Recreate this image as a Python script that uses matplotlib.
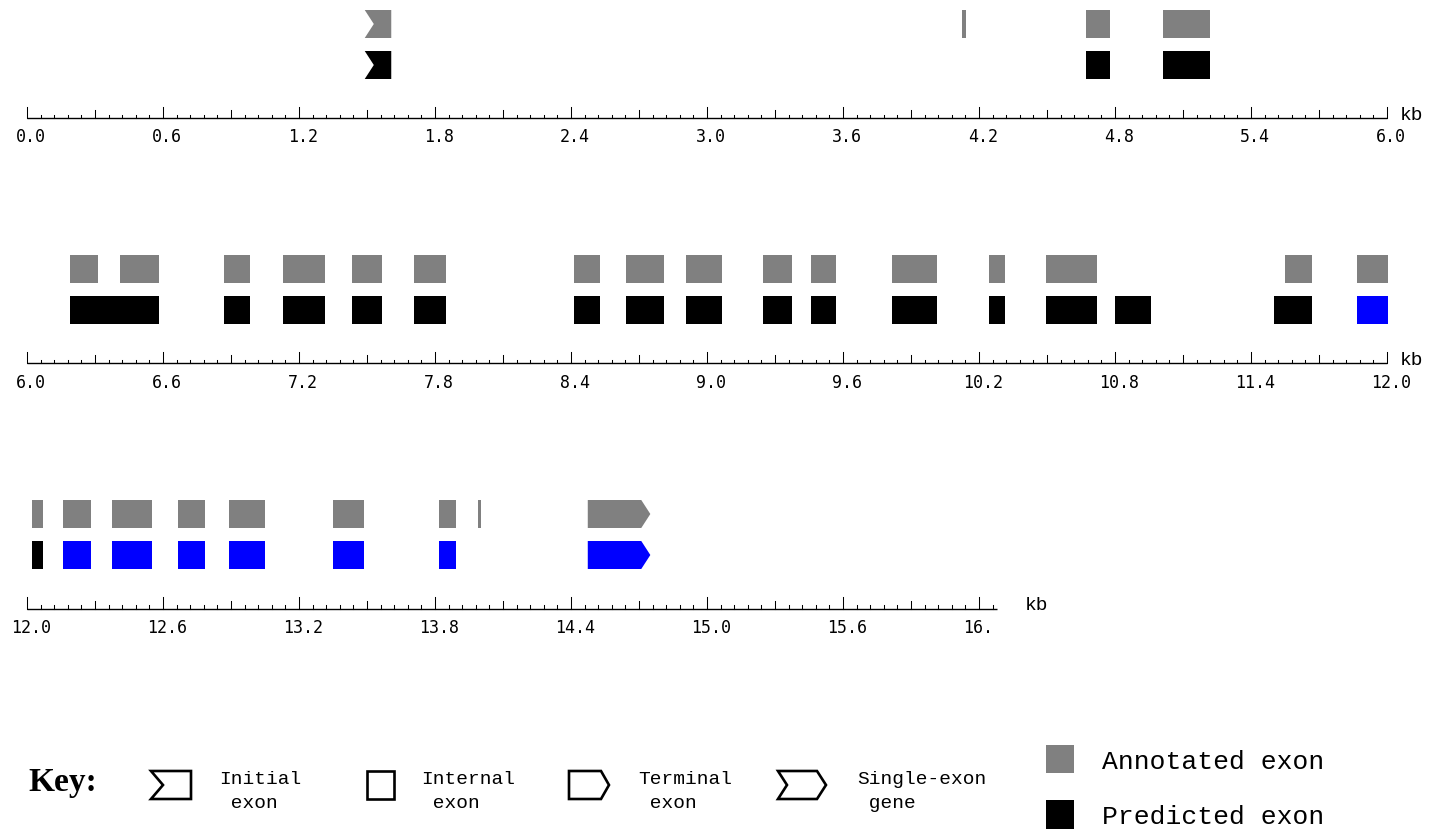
import numpy as np
import matplotlib
matplotlib.use("Agg")
import matplotlib.pyplot as plt
from matplotlib.patches import Polygon, Rectangle
from matplotlib.transforms import offset_copy

# ---------------- data (positions in kb) ----------------
ann_start = [1.490, 4.123, 4.674, 5.012,
             6.189, 6.410, 6.870, 7.129, 7.435, 7.708, 8.414, 8.643, 8.908,
             9.248, 9.459, 9.818, 10.245, 10.497, 11.551, 11.868,
             12.023, 12.158, 12.375, 12.667, 12.892, 13.350, 13.818, 13.990, 14.474]
ann_end = [1.607, 4.143, 4.779, 5.217,
           6.312, 6.582, 6.983, 7.316, 7.564, 7.850, 8.527, 8.809, 9.065,
           9.374, 9.570, 10.014, 10.315, 10.722, 11.671, 12.003,
           12.071, 12.282, 12.552, 12.785, 13.050, 13.488, 13.893, 14.004, 14.750]
ann_kind = ["initial", "internal", "internal", "internal",
            "internal", "internal", "internal", "internal", "internal", "internal",
            "internal", "internal", "internal", "internal", "internal", "internal",
            "internal", "internal", "internal", "internal",
            "internal", "internal", "internal", "internal", "internal", "internal",
            "internal", "internal", "terminal"]

pred_start = [1.490, 4.674, 5.012,
              6.189, 6.870, 7.129, 7.435, 7.708, 8.414, 8.643, 8.908,
              9.248, 9.459, 9.818, 10.245, 10.497, 10.798, 11.503, 11.868,
              12.023, 12.158, 12.375, 12.667, 12.892, 13.350, 13.818, 14.474]
pred_end = [1.607, 4.779, 5.217,
            6.582, 6.983, 7.316, 7.564, 7.850, 8.527, 8.809, 9.065,
            9.374, 9.570, 10.014, 10.315, 10.722, 10.961, 11.671, 12.003,
            12.071, 12.282, 12.552, 12.785, 13.050, 13.488, 13.893, 14.750]
pred_kind = ["initial", "internal", "internal",
             "internal", "internal", "internal", "internal", "internal", "internal",
             "internal", "internal", "internal", "internal", "internal", "internal",
             "internal", "internal", "internal", "internal",
             "internal", "internal", "internal", "internal", "internal", "internal",
             "internal", "terminal"]
pred_color = ["black", "black", "black",
              "black", "black", "black", "black", "black", "black", "black", "black",
              "black", "black", "black", "black", "black", "black", "black", "blue",
              "black", "blue", "blue", "blue", "blue", "blue", "blue", "blue"]

row_start = [0.0, 6.0, 12.0]
row_end = [6.0, 12.0, 16.28]
row_span = 6.0

key_labels = ["Initial\n exon", "Internal\n exon", "Terminal\n exon", "Single-exon\n gene"]
legend_labels = ["Annotated exon", "Predicted exon"]

GRAY = "#808080"
BLUE = "#0000ff"

# ---------------- figure ----------------
W, H = 1433, 830
fig = plt.figure(figsize=(W / 100, H / 100), dpi=100)
fig.patch.set_facecolor("white")

LEFT_PX, RIGHT_PX = 27, 1387
BAND = 245
ANN_Y = (10, 38)
PRED_Y = (51, 79)
AXIS_Y = 118.5
NOTCH = 0.04
CHAR_W = 10.03  # px per char of tick-label font (DejaVu Sans Mono 12pt @100dpi)


def exon_poly(s, e, kind, y0, y1):
    ym = (y0 + y1) / 2
    if kind == "initial":
        return [(s, y0), (e, y0), (e, y1), (s, y1), (s + NOTCH, ym)]
    if kind == "terminal":
        return [(s, y0), (e - NOTCH, y0), (e, ym), (e - NOTCH, y1), (s, y1)]
    return [(s, y0), (e, y0), (e, y1), (s, y1)]


axes = []
for r in range(3):
    top = r * BAND
    ax = fig.add_axes([LEFT_PX / W, 1 - (top + BAND) / H,
                       (RIGHT_PX - LEFT_PX) / W, BAND / H])
    ax.set_xlim(row_start[r], row_start[r] + row_span)
    ax.set_ylim(BAND, 0)
    ax.axis("off")
    axes.append(ax)

    # exons
    for s, e, k in zip(ann_start, ann_end, ann_kind):
        if int(s // row_span) == r:
            ax.add_patch(Polygon(exon_poly(s, e, k, *ANN_Y), closed=True,
                                 facecolor=GRAY, edgecolor="none", clip_on=False))
    for s, e, k, c in zip(pred_start, pred_end, pred_kind, pred_color):
        if int(s // row_span) == r:
            col = BLUE if c == "blue" else "black"
            ax.add_patch(Polygon(exon_poly(s, e, k, *PRED_Y), closed=True,
                                 facecolor=col, edgecolor="none", clip_on=False))

    # ruler
    x0, x1 = row_start[r], row_end[r]
    ax.plot([x0, x1], [AXIS_Y, AXIS_Y], color="black", lw=1.0,
            solid_capstyle="butt", clip_on=False)
    n = int(np.floor((x1 - x0) / 0.06 + 1e-6))
    px_per_kb = (RIGHT_PX - LEFT_PX) / row_span
    end_px = (x1 - x0) * px_per_kb
    for i in range(n + 1):
        x = x0 + i * 0.06
        if i % 10 == 0:
            ytop = 107
        elif i % 5 == 0:
            ytop = 110.5
        else:
            ytop = 115
        ax.plot([x, x], [ytop, AXIS_Y], color="black", lw=0.75, clip_on=False)
        if i % 10 == 0:
            full = f"{x:.1f}"
            half = len(full) * CHAR_W / 2
            right_px = (x - x0) * px_per_kb + 4 + half
            lab = full
            if x < x1 - 1e-6 and right_px > end_px:
                lab = full[:-1]  # label cut off at the short ruler's end
            tr = offset_copy(ax.transData, fig=fig, x=4 - half, y=0, units="dots")
            ax.text(x, 137.5, lab, transform=tr, ha="left", va="center",
                    fontsize=12, family="DejaVu Sans Mono", color="black")

# "kb" labels
for r, dx in zip(range(3), [13, 13, 28]):
    axes[r].annotate("kb", xy=(row_end[r], AXIS_Y), xytext=(dx, 3),
                     textcoords="offset pixels", ha="left", va="center",
                     fontsize=14, family="Liberation Mono")

# ---------------- key ----------------
kax = fig.add_axes([0, 0, 1, 1])
kax.set_xlim(0, W)
kax.set_ylim(H, 0)
kax.axis("off")

kax.text(28, 791, "Key:", fontsize=24, family="Liberation Serif",
         fontweight="bold", ha="left", va="baseline")

ky0, ky1 = 771, 799
kym = (ky0 + ky1) / 2
icons = [
    [(151, ky0), (191, ky0), (191, ky1), (151, ky1), (163, kym)],
    [(367, ky0), (394, ky0), (394, ky1), (367, ky1)],
    [(569, ky0), (601, ky0), (609, kym), (601, ky1), (569, ky1)],
    [(778, ky0), (817, ky0), (826, kym), (817, ky1), (778, ky1), (787, kym)],
]
text_x = [219, 421, 638, 857]
for poly, lab, tx in zip(icons, key_labels, text_x):
    kax.add_patch(Polygon(poly, closed=True, facecolor="none",
                          edgecolor="black", lw=1.9, joinstyle="miter"))
    l1, l2 = lab.split("\n")
    kax.text(tx, 784, l1, fontsize=14, family="Liberation Mono",
             ha="left", va="baseline")
    kax.text(tx, 808, l2, fontsize=14, family="Liberation Mono",
             ha="left", va="baseline")

kax.add_patch(Rectangle((1046, 745), 28, 28, facecolor=GRAY, edgecolor="none"))
kax.add_patch(Rectangle((1046, 800), 28, 29, facecolor="black", edgecolor="none"))
kax.text(1102, 769, legend_labels[0], fontsize=19, family="Liberation Mono",
         ha="left", va="baseline")
kax.text(1102, 824, legend_labels[1], fontsize=19, family="Liberation Mono",
         ha="left", va="baseline")

fig.savefig("out.png", dpi=100, facecolor="white")
